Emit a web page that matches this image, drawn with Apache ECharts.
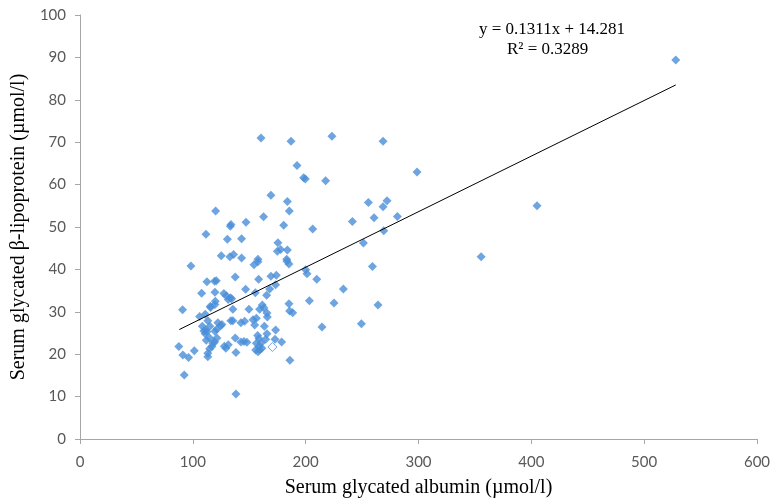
<!DOCTYPE html>
<html>
<head>
<meta charset="utf-8">
<script src="https://cdn.jsdelivr.net/npm/echarts@6/dist/echarts.min.js"></script>
<style>html,body{margin:0;padding:0;background:#fff;}#c{width:772px;height:501px;}</style>
</head>
<body>
<div id="c"></div>
<script>
// Serum glycated albumin (x) values
const albumin = [528,405,355.5,298.7,281.3,272.1,268.6,269.2,268.6,264.1,260.6,259.2,255.6,251.2,249.4,241.4,233.4,225.1,223.3,217.7,
214.5,209.8,206.2,203.3,200,201.2,198.2,199.7,192.3,187.0,183.8,185.5,180.5,183.4,185.2,183.2,183.8,177.8,174.9,175.4,
169.2,162.7,160.4,157.7,157.7,154.2,147.1,143.2,143.2,136.1,132.9,125.2,130.6,133.2,133.8,120.2,111.6,98.3,90.9,87.6,
91.2,96.2,101.3,92.4,138.2,186,185.2,188.5,185.8,169.2,174,137.6,112.5,119.3,120.8,158.3,146.8,168.1,173.4,107.8,
119.6,127.5,129.7,133.2,131.4,134.4,155.4,165.4,119.9,115.7,135.5,149.7,161.6,159.2,163,165.7,166,106,111,113.3,
122.2,125.8,133.7,135.5,142.6,145.9,153.3,156.3,154.8,163.4,173.4,108.4,109.8,111.3,112.5,115.1,111,119.6,121.3,124.6,
111.9,114.9,117.8,119.3,121.3,116.9,114.9,113.3,113.3,127.9,129.3,131.4,137.6,142.6,145.3,147.9,138.2,157.4,158.6,156.3,
160.7,158.6,161.2,155.7,159.2,157.7,164.5,165.7,172.8,178.7,115.5,119.6];
// Serum glycated beta-lipoprotein (y) values
const lipoprotein = [89.4,55.0,43.0,63.0,52.5,56.2,54.8,49.1,70.2,31.6,52.2,40.7,55.8,46.2,27.2,51.3,35.4,32.1,71.4,60.9,
26.4,37.7,49.5,32.6,39.9,39.0,61.6,61.3,64.5,70.2,56.0,53.8,50.4,41.9,41.3,42.4,44.6,44.7,44.3,46.3,
57.5,52.4,71.0,42.4,41.8,41.1,51.1,47.2,42.7,43.5,43.0,43.2,47.1,50.2,50.6,53.8,48.3,40.8,30.5,21.8,
19.8,19.2,20.8,15.1,10.6,18.6,31.9,29.8,30.2,38.4,38.6,38.2,37.1,37.2,37.3,37.7,35.3,35.4,36.4,34.4,
34.6,34.3,33.8,33.3,32.9,33.1,34.5,33.9,32.5,31.0,30.6,30.6,31.6,30.6,30.9,29.7,28.8,28.9,29.4,27.9,
27.4,27.0,27.9,27.9,27.4,27.8,28.1,28.5,26.9,26.6,25.7,26.6,25.5,25.7,25.3,26.6,24.8,25.4,25.9,26.7,
23.3,23.8,22.6,22.9,23.8,21.8,21.3,20.2,19.4,21.9,21.4,22.2,23.8,22.9,23.0,22.8,20.4,24.4,23.7,22.6,
22.7,21.8,21.4,21.0,21.0,20.6,23.5,24.8,23.5,22.9,31.3,31.7];
// the one hollow marker
const hollowX = [170.5];
const hollowY = [21.7];
// linear trend line
const slope = 0.1311, intercept = 14.281;
const trendX = [88, 528];
const equationText = 'y = 0.1311x + 14.281';
const r2Text = 'R² = 0.3289';
const xTitle = 'Serum glycated albumin (µmol/l)';
const yTitle = 'Serum glycated β-lipoprotein (µmol/l)';

const pts = albumin.map((x, i) => [x, lipoprotein[i]]);
const hollow = hollowX.map((x, i) => [x, hollowY[i]]);
const trend = trendX.map(x => [x, slope * x + intercept]);

const chart = echarts.init(document.getElementById('c'), null, {renderer: 'canvas'});
const axisCommon = {
  axisLine: {show: true, lineStyle: {color: '#A6A6A6', width: 1}},
  axisTick: {show: true, length: 5, lineStyle: {color: '#A6A6A6'}},
  splitLine: {show: false},
  axisLabel: {color: '#595959', fontFamily: 'Lato', fontSize: 15},
  nameTextStyle: {color: '#000', fontFamily: 'Liberation Serif', fontSize: 20},
  nameLocation: 'middle'
};
chart.setOption({
  animation: false,
  grid: {left: 80, right: 15, top: 15, bottom: 62, containLabel: false, outerBoundsMode: 'none'},
  xAxis: Object.assign({}, axisCommon, {
    type: 'value', min: 0, max: 600, interval: 100,
    name: xTitle, nameGap: 39,
    axisLabel: Object.assign({}, axisCommon.axisLabel, {margin: 16})
  }),
  yAxis: Object.assign({}, axisCommon, {
    type: 'value', min: 0, max: 100, interval: 10,
    name: yTitle, nameGap: 44,
    axisLabel: Object.assign({}, axisCommon.axisLabel, {margin: 14})
  }),
  graphic: [
    {type: 'text', left: 479, top: 21, style: {text: equationText, font: '17px "Liberation Serif"', fill: '#000'}},
    {type: 'text', left: 507, top: 41, style: {text: r2Text, font: '17px "Liberation Serif"', fill: '#000'}}
  ],
  series: [
    {type: 'scatter', data: pts, symbol: 'diamond', symbolSize: 9,
     itemStyle: {color: '#4A8FD8'}, z: 3},
    {type: 'scatter', data: hollow, symbol: 'diamond', symbolSize: 9,
     itemStyle: {color: '#fff', borderColor: '#4A8FD8', borderWidth: 1}, z: 3},
    {type: 'line', data: trend, showSymbol: false, symbol: 'none',
     lineStyle: {color: '#000', width: 1}, z: 4}
  ]
});
</script>
</body>
</html>
